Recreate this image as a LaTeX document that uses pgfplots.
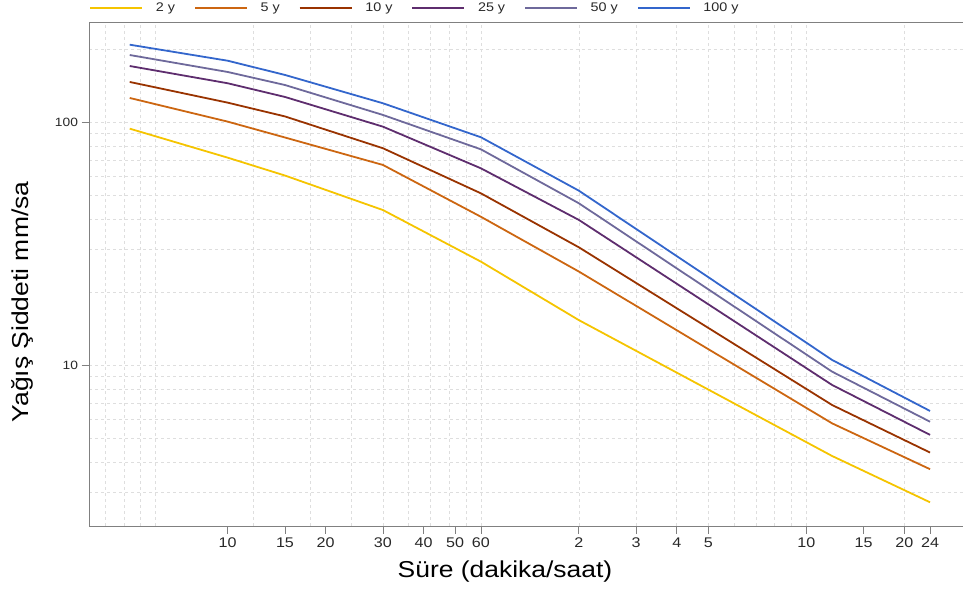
\documentclass[border=0pt]{standalone}
\usepackage{fontspec}
\setmainfont{Liberation Sans}[FakeStretch=1.15]
\usepackage{pgfplots}
\pgfplotsset{compat=1.18}
\definecolor{cA}{RGB}{245,196,0}
\definecolor{cB}{RGB}{204,102,17}
\definecolor{cC}{RGB}{153,51,0}
\definecolor{cD}{RGB}{94,45,110}
\definecolor{cE}{RGB}{110,105,155}
\definecolor{cF}{RGB}{51,102,204}
\definecolor{axgray}{RGB}{128,128,128}
\definecolor{gridgray}{RGB}{222,222,222}
\definecolor{labgray}{RGB}{40,40,40}
\begin{document}
\begin{tikzpicture}
\useasboundingbox (0,0) rectangle (963pt,591pt);
\begin{axis}[
  at={(89.5pt,65pt)}, anchor=south west,
  scale only axis, width=873.5pt, height=503.5pt,
  xmode=log, ymode=log,
  xmin=0.0627, xmax=30.3, ymin=2.189, ymax=258.4,
  axis x line=box, axis y line=left,
  axis line style={draw=axgray, line width=0.8pt, -},
  xtick={0.166667,0.25,0.333333,0.5,0.666667,0.833333,1,2,3,4,5,10,15,20,24},
  xticklabels={10,15,20,30,40,50,60,2,3,4,5,10,15,20,24},
  ytick={10,100}, yticklabels={10,100},
  minor xtick={0.07,0.08,0.09,0.1,0.2,0.3,0.4,0.5,0.6,0.7,0.8,0.9,1,2,3,4,5,6,7,8,9,10,20},
  minor ytick={3,4,5,6,7,8,9,10,20,30,40,50,60,70,80,90,100,200},
  xminorgrids=true, yminorgrids=true, xmajorgrids=false, ymajorgrids=false,
  minor grid style={draw=gridgray, line width=0.7pt, dash pattern=on 3pt off 3pt},
  minor tick length=0pt, major tick length=8pt,
  tick align=outside, xtick pos=left, ytick pos=left,
  tick style={draw=axgray, line width=0.8pt},
  xticklabel style={font=\fontsize{14}{15}\selectfont, text=labgray},
  yticklabel style={font=\fontsize{12}{13}\selectfont, text=labgray},
  xlabel={Süre (dakika/saat)},
  xlabel style={at={(axis description cs:0.4757,-0.0914)}, anchor=center, font=\fontsize{23}{25}\selectfont},
  ylabel={Yağış Şiddeti mm/sa},
  ylabel style={at={(axis description cs:-0.0773,0.445)}, anchor=center, font=\fontsize{23}{25}\selectfont},
  legend columns=-1, legend cell align=left,
  legend image code/.code={\draw[#1] (0pt,0pt) -- (52pt,0pt);},
  legend style={at={(axis description cs:0,1.0288)}, anchor=west, draw=none, fill=none,
    inner sep=0pt, outer sep=0pt, font=\fontsize{12.5}{13}\selectfont, text=labgray,
    nodes={inner sep=0pt},
    /tikz/every odd column/.append style={column sep=12.7pt},
    /tikz/every even column/.append style={column sep=19pt}},
]
\addplot[cA, line width=1.8pt] coordinates {(0.083333,94.5)(0.166667,71.8)(0.25,60.6)(0.5,43.7)(1,26.8)(2,15.4)(12,4.25)(24,2.74)};
\addlegendentry{2 y}
\addplot[cB, line width=1.8pt] coordinates {(0.083333,126.4)(0.166667,101.0)(0.25,86.9)(0.5,67.0)(1,41.0)(2,24.4)(12,5.79)(24,3.75)};
\addlegendentry{5 y}
\addplot[cC, line width=1.8pt] coordinates {(0.083333,147.1)(0.166667,120.9)(0.25,106.1)(0.5,78.5)(1,51.2)(2,30.7)(12,6.89)(24,4.39)};
\addlegendentry{10 y}
\addplot[cD, line width=1.8pt] coordinates {(0.083333,171.1)(0.166667,145.3)(0.25,127.6)(0.5,96.3)(1,64.9)(2,39.8)(12,8.33)(24,5.19)};
\addlegendentry{25 y}
\addplot[cE, line width=1.8pt] coordinates {(0.083333,189.9)(0.166667,161.7)(0.25,142.9)(0.5,107.6)(1,77.7)(2,46.6)(12,9.45)(24,5.88)};
\addlegendentry{50 y}
\addplot[cF, line width=1.8pt] coordinates {(0.083333,209.4)(0.166667,179.9)(0.25,157.2)(0.5,120.2)(1,87.1)(2,52.5)(12,10.56)(24,6.51)};
\addlegendentry{100 y}
\end{axis}
\end{tikzpicture}
\end{document}
